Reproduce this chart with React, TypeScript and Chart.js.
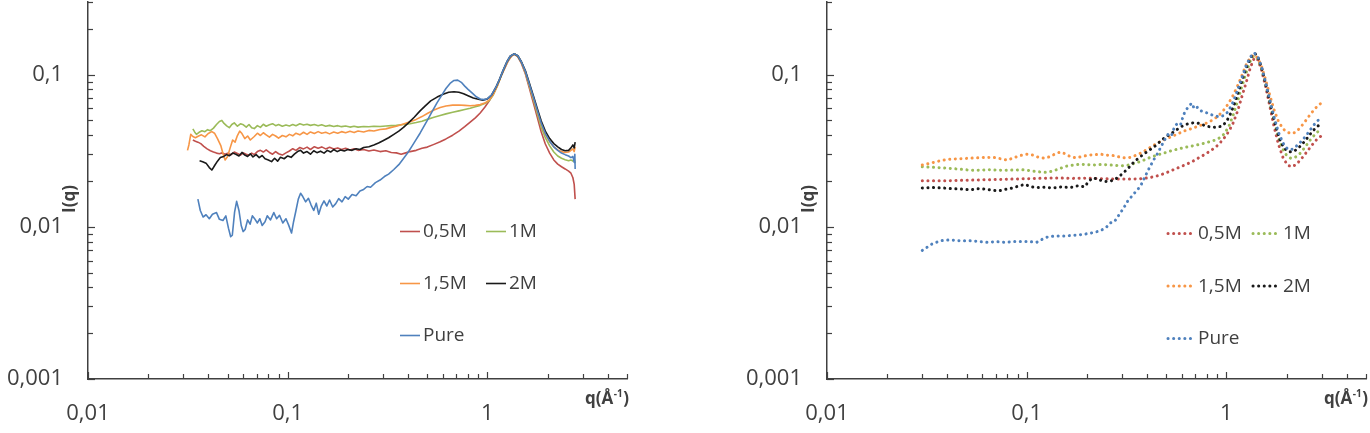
import React, { useEffect, useRef } from 'react';
import { Chart, registerables } from 'chart.js';

Chart.register(...registerables);

type Pt = [number, number];

const seriesNames = ['0,5M', '1M', '1,5M', '2M', 'Pure'];
const seriesColors = ['#C0504D', '#9BBB59', '#F79646', '#1A1A1A', '#4F81BD'];

// axis ticks (marks) and labelled ticks
const xTickValues = [0.01, 0.02, 0.03, 0.04, 0.05, 0.06, 0.07, 0.08, 0.09, 0.1, 0.2, 0.3, 0.4, 0.5, 0.6, 0.7, 0.8, 0.9, 1, 2, 3, 4, 5];
const xLabelValues = [0.01, 0.1, 1];
const xLabelTexts = ['0,01', '0,1', '1'];
const yTickValues = [0.001, 0.002, 0.003, 0.004, 0.005, 0.006, 0.007, 0.008, 0.009, 0.01, 0.02, 0.03, 0.04, 0.05, 0.06, 0.07, 0.08, 0.09, 0.1, 0.2, 0.3];
const yLabelValues = [0.001, 0.01, 0.1];
const yLabelTexts = ['0,001', '0,01', '0,1'];
const xTitle = 'q(Å';
const xTitleSup = '-1';
const yTitle = 'I(q)';

// ---------- left chart (solid) ----------
const leftRed: Pt[] = [[0.0335,0.0372],[0.0345,0.0365],[0.0355,0.0360],[0.0367,0.0352],[0.038,0.0338],[0.0395,0.0325],[0.041,0.0316],[0.0425,0.0310],[0.044,0.0305],[0.0455,0.0302],[0.047,0.0306],[0.0485,0.0300],[0.050,0.0304],[0.052,0.0298],[0.054,0.0310],[0.056,0.0303],[0.058,0.0296],[0.060,0.0306],[0.062,0.0300],[0.064,0.0295],[0.066,0.0305],[0.068,0.0298],[0.0705,0.0312],[0.073,0.0318],[0.0755,0.0310],[0.078,0.0320],[0.081,0.0308],[0.084,0.0300],[0.087,0.0312],[0.09,0.0302],[0.094,0.0296],[0.098,0.0306],[0.102,0.0315],[0.106,0.0326],[0.11,0.0318],[0.115,0.0332],[0.12,0.0325],[0.125,0.0334],[0.13,0.0322],[0.136,0.0336],[0.142,0.0328],[0.148,0.0335],[0.155,0.0325],[0.162,0.0333],[0.17,0.0324],[0.178,0.0330],[0.186,0.0322],[0.195,0.0328],[0.205,0.0320],[0.215,0.0326],[0.225,0.0318],[0.24,0.0322],[0.255,0.0315],[0.27,0.0320],[0.29,0.0312],[0.31,0.0316],[0.33,0.0308],[0.35,0.0306],[0.37,0.0300],[0.39,0.0306],[0.41,0.0312],[0.44,0.0318],[0.47,0.0328],[0.50,0.0334],[0.54,0.0348],[0.58,0.0362],[0.62,0.0378],[0.67,0.0400],[0.72,0.0425],[0.77,0.0455],[0.82,0.0488],[0.87,0.0520],[0.92,0.0560],[0.97,0.0610],[1.02,0.0670],[1.07,0.0750],[1.12,0.0850],[1.17,0.0975],[1.22,0.1100],[1.27,0.1230],[1.32,0.1325],[1.37,0.1360],[1.42,0.1310],[1.48,0.1185],[1.55,0.1010],[1.62,0.0820],[1.70,0.0650],[1.78,0.0520],[1.86,0.0420],[1.95,0.0350],[2.05,0.0305],[2.15,0.0275],[2.25,0.0258],[2.35,0.0248],[2.45,0.0240],[2.55,0.0232],[2.62,0.0225],[2.68,0.0210],[2.72,0.0190],[2.75,0.0152]];

const leftGreen: Pt[] = [[0.0335,0.0440],[0.0342,0.0420],[0.0349,0.0405],[0.036,0.0418],[0.0372,0.0428],[0.0385,0.0422],[0.0397,0.0435],[0.041,0.0428],[0.0425,0.0445],[0.044,0.0470],[0.0455,0.0492],[0.0468,0.0500],[0.048,0.0478],[0.0495,0.0460],[0.051,0.0448],[0.0525,0.0470],[0.054,0.0482],[0.056,0.0458],[0.058,0.0475],[0.06,0.0468],[0.062,0.0452],[0.064,0.0470],[0.066,0.0448],[0.068,0.0442],[0.0705,0.0462],[0.073,0.0450],[0.0755,0.0472],[0.078,0.0458],[0.081,0.0468],[0.084,0.0476],[0.087,0.0462],[0.09,0.0470],[0.094,0.0458],[0.098,0.0466],[0.102,0.0460],[0.106,0.0470],[0.11,0.0462],[0.115,0.0475],[0.12,0.0466],[0.125,0.0472],[0.13,0.0464],[0.136,0.0470],[0.142,0.0461],[0.148,0.0468],[0.155,0.0458],[0.162,0.0464],[0.17,0.0456],[0.178,0.0462],[0.186,0.0455],[0.195,0.0460],[0.205,0.0452],[0.215,0.0458],[0.225,0.0452],[0.24,0.0456],[0.255,0.0454],[0.27,0.0458],[0.29,0.0456],[0.31,0.0460],[0.33,0.0462],[0.35,0.0464],[0.38,0.0470],[0.41,0.0476],[0.44,0.0484],[0.47,0.0494],[0.50,0.0508],[0.54,0.0524],[0.58,0.0538],[0.62,0.0552],[0.67,0.0566],[0.72,0.0578],[0.77,0.0590],[0.82,0.0602],[0.87,0.0615],[0.92,0.0628],[0.97,0.0645],[1.02,0.0672],[1.07,0.0735],[1.12,0.0840],[1.17,0.0975],[1.22,0.1110],[1.27,0.1240],[1.32,0.1330],[1.37,0.1365],[1.42,0.1320],[1.48,0.1200],[1.55,0.1030],[1.62,0.0845],[1.70,0.0680],[1.78,0.0550],[1.86,0.0450],[1.95,0.0385],[2.05,0.0340],[2.15,0.0310],[2.25,0.0292],[2.35,0.0282],[2.45,0.0276],[2.55,0.0272],[2.62,0.0275],[2.68,0.0270],[2.72,0.0280],[2.75,0.0262]];

const leftOrange: Pt[] = [[0.0315,0.0318],[0.032,0.0345],[0.0327,0.0405],[0.0335,0.0392],[0.0345,0.0385],[0.0358,0.0395],[0.037,0.0402],[0.0385,0.0390],[0.040,0.0410],[0.0417,0.0422],[0.043,0.0412],[0.0445,0.0380],[0.0463,0.0340],[0.0475,0.0300],[0.0486,0.0275],[0.050,0.0290],[0.0515,0.0330],[0.053,0.0372],[0.0545,0.0360],[0.056,0.0398],[0.0575,0.0425],[0.059,0.0410],[0.061,0.0380],[0.063,0.0395],[0.065,0.0372],[0.068,0.0392],[0.0705,0.0412],[0.073,0.0398],[0.0755,0.0415],[0.078,0.0402],[0.081,0.0388],[0.084,0.0405],[0.087,0.0395],[0.09,0.0382],[0.094,0.0398],[0.098,0.0390],[0.102,0.0405],[0.106,0.0396],[0.11,0.0412],[0.115,0.0402],[0.12,0.0418],[0.125,0.0405],[0.13,0.0420],[0.136,0.0410],[0.142,0.0422],[0.148,0.0412],[0.155,0.0418],[0.162,0.0408],[0.17,0.0420],[0.178,0.0412],[0.186,0.0422],[0.195,0.0415],[0.205,0.0424],[0.215,0.0416],[0.225,0.0426],[0.24,0.0420],[0.255,0.0430],[0.27,0.0426],[0.29,0.0436],[0.31,0.0440],[0.33,0.0450],[0.35,0.0458],[0.38,0.0474],[0.41,0.0490],[0.44,0.0508],[0.47,0.0530],[0.50,0.0555],[0.54,0.0585],[0.58,0.0608],[0.62,0.0622],[0.67,0.0630],[0.72,0.0632],[0.77,0.0628],[0.82,0.0625],[0.87,0.0628],[0.92,0.0635],[0.97,0.0650],[1.02,0.0680],[1.07,0.0740],[1.12,0.0840],[1.17,0.0975],[1.22,0.1110],[1.27,0.1240],[1.32,0.1330],[1.37,0.1365],[1.42,0.1322],[1.48,0.1205],[1.55,0.1040],[1.62,0.0860],[1.70,0.0700],[1.78,0.0572],[1.86,0.0472],[1.95,0.0405],[2.05,0.0362],[2.15,0.0335],[2.25,0.0320],[2.35,0.0312],[2.45,0.0308],[2.55,0.0310],[2.62,0.0318],[2.68,0.0325],[2.72,0.0312],[2.75,0.0335]];

const leftBlack: Pt[] = [[0.0362,0.0272],[0.0375,0.0268],[0.039,0.0262],[0.0405,0.0245],[0.0417,0.0236],[0.043,0.0252],[0.0445,0.0270],[0.046,0.0285],[0.0478,0.0290],[0.0495,0.0298],[0.051,0.0293],[0.053,0.0305],[0.055,0.0300],[0.057,0.0292],[0.059,0.0308],[0.061,0.0296],[0.063,0.0290],[0.065,0.0302],[0.067,0.0288],[0.0695,0.0298],[0.072,0.0285],[0.0745,0.0294],[0.077,0.0280],[0.08,0.0275],[0.083,0.0268],[0.086,0.0282],[0.089,0.0270],[0.092,0.0286],[0.096,0.0280],[0.1,0.0292],[0.104,0.0286],[0.108,0.0300],[0.112,0.0312],[0.116,0.0318],[0.12,0.0305],[0.125,0.0312],[0.13,0.0300],[0.135,0.0316],[0.14,0.0307],[0.146,0.0314],[0.152,0.0305],[0.158,0.0318],[0.164,0.0310],[0.17,0.0322],[0.177,0.0312],[0.184,0.0320],[0.192,0.0315],[0.2,0.0322],[0.21,0.0318],[0.22,0.0326],[0.23,0.0322],[0.24,0.0332],[0.255,0.0336],[0.27,0.0345],[0.285,0.0355],[0.30,0.0368],[0.32,0.0385],[0.34,0.0405],[0.36,0.0425],[0.38,0.0450],[0.40,0.0478],[0.43,0.0525],[0.46,0.0578],[0.49,0.0625],[0.52,0.0672],[0.56,0.0712],[0.60,0.0742],[0.64,0.0765],[0.68,0.0772],[0.72,0.0765],[0.76,0.0748],[0.80,0.0726],[0.85,0.0702],[0.90,0.0688],[0.95,0.0680],[1.00,0.0692],[1.05,0.0735],[1.10,0.0820],[1.15,0.0930],[1.20,0.1070],[1.25,0.1210],[1.30,0.1320],[1.36,0.1370],[1.42,0.1330],[1.48,0.1215],[1.55,0.1060],[1.62,0.0885],[1.70,0.0725],[1.78,0.0595],[1.86,0.0495],[1.95,0.0425],[2.05,0.0380],[2.15,0.0352],[2.25,0.0335],[2.35,0.0322],[2.45,0.0316],[2.55,0.0318],[2.62,0.0330],[2.68,0.0345],[2.72,0.0330],[2.75,0.0360]];

const leftBlue: Pt[] = [[0.0355,0.0152],[0.0365,0.0128],[0.0377,0.0116],[0.039,0.0120],[0.0405,0.0113],[0.042,0.0121],[0.044,0.0124],[0.0455,0.0112],[0.0474,0.0110],[0.049,0.0118],[0.0505,0.0098],[0.0518,0.0086],[0.0528,0.0088],[0.0542,0.0125],[0.0555,0.0147],[0.057,0.0128],[0.0585,0.0102],[0.0598,0.0093],[0.0612,0.0096],[0.063,0.0111],[0.0648,0.0104],[0.0665,0.0118],[0.068,0.0114],[0.0705,0.0106],[0.0725,0.0113],[0.0745,0.0102],[0.077,0.0108],[0.079,0.0118],[0.082,0.0111],[0.0852,0.0124],[0.088,0.0113],[0.091,0.0119],[0.0945,0.0106],[0.098,0.0113],[0.101,0.0103],[0.1045,0.0091],[0.107,0.0108],[0.110,0.0128],[0.113,0.0152],[0.116,0.0166],[0.119,0.0158],[0.123,0.0146],[0.127,0.0154],[0.131,0.0139],[0.135,0.0128],[0.139,0.0143],[0.143,0.0121],[0.147,0.0136],[0.152,0.0148],[0.157,0.0137],[0.162,0.0150],[0.168,0.0135],[0.174,0.0142],[0.18,0.0153],[0.187,0.0146],[0.194,0.0158],[0.201,0.0152],[0.21,0.0163],[0.22,0.0160],[0.23,0.0172],[0.24,0.0176],[0.25,0.0184],[0.26,0.0182],[0.275,0.0195],[0.29,0.0203],[0.305,0.0214],[0.32,0.0222],[0.34,0.0238],[0.36,0.0256],[0.38,0.0281],[0.40,0.0308],[0.42,0.0340],[0.44,0.0375],[0.46,0.0412],[0.48,0.0455],[0.50,0.0500],[0.53,0.0575],[0.56,0.0655],[0.59,0.0730],[0.62,0.0810],[0.65,0.0875],[0.68,0.0915],[0.71,0.0920],[0.74,0.0890],[0.77,0.0840],[0.80,0.0800],[0.84,0.0755],[0.88,0.0715],[0.92,0.0692],[0.96,0.0685],[1.00,0.0695],[1.05,0.0735],[1.10,0.0820],[1.15,0.0930],[1.20,0.1070],[1.25,0.1210],[1.30,0.1320],[1.36,0.1370],[1.42,0.1330],[1.48,0.1210],[1.55,0.1050],[1.62,0.0870],[1.70,0.0710],[1.78,0.0580],[1.86,0.0480],[1.95,0.0410],[2.05,0.0365],[2.15,0.0335],[2.25,0.0318],[2.35,0.0305],[2.45,0.0298],[2.55,0.0292],[2.62,0.0285],[2.68,0.0290],[2.72,0.0265],[2.74,0.0300],[2.75,0.0240]];

// ---------- right chart (dotted) ----------
const rightRed: Pt[] = [[0.030,0.0201],[0.035,0.0201],[0.041,0.0201],[0.048,0.0202],[0.056,0.0203],[0.065,0.0204],[0.075,0.0205],[0.087,0.0206],[0.10,0.0207],[0.114,0.0208],[0.13,0.0209],[0.15,0.0209],[0.17,0.0208],[0.19,0.0209],[0.215,0.0208],[0.24,0.0207],[0.27,0.0206],[0.30,0.0206],[0.33,0.0206],[0.37,0.0207],[0.41,0.0210],[0.45,0.0216],[0.49,0.0224],[0.53,0.0234],[0.58,0.0246],[0.63,0.0257],[0.68,0.0270],[0.73,0.0285],[0.79,0.0302],[0.85,0.0322],[0.91,0.0345],[0.97,0.0380],[1.03,0.0425],[1.08,0.0480],[1.14,0.0580],[1.20,0.0730],[1.26,0.0900],[1.32,0.1120],[1.38,0.1290],[1.44,0.1250],[1.50,0.1070],[1.57,0.0840],[1.65,0.0620],[1.73,0.0460],[1.82,0.0350],[1.92,0.0285],[2.02,0.0255],[2.12,0.0248],[2.22,0.0255],[2.35,0.0275],[2.50,0.0305],[2.66,0.0340],[2.82,0.0372],[2.98,0.0395]];

const rightGreen: Pt[] = [[0.030,0.0248],[0.034,0.0246],[0.038,0.0244],[0.043,0.0241],[0.048,0.0238],[0.053,0.0235],[0.059,0.0236],[0.065,0.0237],[0.071,0.0236],[0.078,0.0235],[0.086,0.0236],[0.095,0.0237],[0.104,0.0234],[0.114,0.0230],[0.124,0.0228],[0.134,0.0232],[0.145,0.0240],[0.157,0.0250],[0.170,0.0254],[0.185,0.0258],[0.20,0.0256],[0.22,0.0255],[0.24,0.0257],[0.26,0.0255],[0.28,0.0253],[0.30,0.0252],[0.32,0.0254],[0.35,0.0262],[0.38,0.0272],[0.41,0.0284],[0.45,0.0296],[0.49,0.0306],[0.53,0.0316],[0.58,0.0326],[0.63,0.0334],[0.69,0.0342],[0.75,0.0350],[0.81,0.0360],[0.87,0.0370],[0.93,0.0385],[0.98,0.0410],[1.03,0.0460],[1.08,0.0540],[1.13,0.0650],[1.19,0.0820],[1.25,0.1010],[1.31,0.1210],[1.37,0.1330],[1.43,0.1280],[1.49,0.1120],[1.56,0.0900],[1.64,0.0680],[1.72,0.0520],[1.81,0.0400],[1.90,0.0330],[2.00,0.0295],[2.10,0.0282],[2.20,0.0285],[2.32,0.0300],[2.46,0.0330],[2.62,0.0370],[2.80,0.0410],[2.98,0.0440]];

const rightOrange: Pt[] = [[0.030,0.0255],[0.033,0.0262],[0.037,0.0272],[0.041,0.0278],[0.046,0.0280],[0.051,0.0282],[0.057,0.0284],[0.063,0.0286],[0.069,0.0285],[0.075,0.0279],[0.080,0.0274],[0.086,0.0284],[0.093,0.0294],[0.100,0.0300],[0.107,0.0296],[0.114,0.0287],[0.122,0.0283],[0.130,0.0288],[0.138,0.0300],[0.147,0.0310],[0.156,0.0302],[0.166,0.0288],[0.177,0.0284],[0.19,0.0290],[0.205,0.0296],[0.22,0.0298],[0.235,0.0300],[0.25,0.0296],[0.27,0.0294],[0.29,0.0288],[0.31,0.0284],[0.33,0.0286],[0.35,0.0294],[0.375,0.0306],[0.40,0.0322],[0.43,0.0342],[0.46,0.0360],[0.50,0.0378],[0.54,0.0395],[0.58,0.0412],[0.62,0.0428],[0.67,0.0442],[0.72,0.0458],[0.78,0.0475],[0.84,0.0498],[0.90,0.0528],[0.96,0.0575],[1.02,0.0640],[1.08,0.0730],[1.14,0.0850],[1.20,0.1000],[1.26,0.1170],[1.32,0.1300],[1.38,0.1350],[1.44,0.1280],[1.50,0.1130],[1.57,0.0930],[1.65,0.0730],[1.73,0.0590],[1.82,0.0495],[1.92,0.0440],[2.02,0.0418],[2.12,0.0410],[2.22,0.0418],[2.35,0.0450],[2.50,0.0500],[2.65,0.0555],[2.82,0.0610],[2.98,0.0650]];

const rightBlack: Pt[] = [[0.030,0.0180],[0.034,0.0181],[0.038,0.0180],[0.042,0.0178],[0.047,0.0177],[0.052,0.0175],[0.057,0.0178],[0.062,0.0177],[0.067,0.0174],[0.072,0.0172],[0.078,0.0176],[0.085,0.0180],[0.092,0.0186],[0.098,0.0190],[0.104,0.0184],[0.112,0.0181],[0.122,0.0182],[0.135,0.0180],[0.15,0.0183],[0.165,0.0181],[0.18,0.0186],[0.195,0.0183],[0.205,0.0200],[0.215,0.0210],[0.228,0.0205],[0.24,0.0200],[0.255,0.0198],[0.27,0.0202],[0.285,0.0210],[0.30,0.0222],[0.32,0.0240],[0.34,0.0262],[0.36,0.0280],[0.385,0.0300],[0.41,0.0318],[0.44,0.0340],[0.47,0.0368],[0.50,0.0392],[0.53,0.0410],[0.56,0.0432],[0.60,0.0458],[0.64,0.0475],[0.68,0.0482],[0.72,0.0480],[0.76,0.0468],[0.80,0.0458],[0.85,0.0450],[0.90,0.0452],[0.95,0.0458],[1.00,0.0490],[1.05,0.0555],[1.10,0.0650],[1.16,0.0800],[1.22,0.0990],[1.28,0.1180],[1.34,0.1330],[1.39,0.1380],[1.45,0.1270],[1.51,0.1080],[1.58,0.0850],[1.66,0.0640],[1.75,0.0480],[1.84,0.0380],[1.94,0.0330],[2.04,0.0312],[2.14,0.0310],[2.25,0.0322],[2.38,0.0345],[2.52,0.0378],[2.68,0.0420],[2.84,0.0455],[2.98,0.0475]];

const rightBlue: Pt[] = [[0.030,0.0070],[0.0335,0.0077],[0.037,0.0081],[0.041,0.0082],[0.046,0.0081],[0.052,0.0081],[0.058,0.0080],[0.064,0.0079],[0.070,0.0080],[0.078,0.0079],[0.086,0.0080],[0.094,0.0080],[0.103,0.0080],[0.112,0.0079],[0.120,0.0083],[0.128,0.0086],[0.140,0.0087],[0.155,0.0087],[0.172,0.0088],[0.19,0.0089],[0.21,0.0091],[0.233,0.0094],[0.25,0.0099],[0.262,0.0106],[0.275,0.0108],[0.29,0.0120],[0.305,0.0132],[0.32,0.0147],[0.34,0.0162],[0.36,0.0176],[0.375,0.0190],[0.39,0.0212],[0.41,0.0242],[0.43,0.0272],[0.45,0.0300],[0.47,0.0335],[0.49,0.0372],[0.51,0.0405],[0.53,0.0395],[0.55,0.0455],[0.57,0.0480],[0.59,0.0470],[0.61,0.0545],[0.63,0.0590],[0.65,0.0620],[0.67,0.0650],[0.69,0.0600],[0.71,0.0615],[0.74,0.0580],[0.77,0.0570],[0.80,0.0560],[0.84,0.0545],[0.88,0.0535],[0.92,0.0528],[0.97,0.0538],[1.02,0.0570],[1.08,0.0660],[1.14,0.0800],[1.20,0.0970],[1.26,0.1160],[1.32,0.1310],[1.38,0.1390],[1.44,0.1300],[1.50,0.1120],[1.57,0.0890],[1.65,0.0680],[1.73,0.0530],[1.82,0.0420],[1.92,0.0355],[2.02,0.0325],[2.12,0.0322],[2.22,0.0335],[2.35,0.0360],[2.50,0.0395],[2.65,0.0440],[2.82,0.0490],[2.98,0.0520]];

const leftSeries = [leftRed, leftGreen, leftOrange, leftBlack, leftBlue];
const rightSeries = [rightRed, rightGreen, rightOrange, rightBlack, rightBlue];

const AXIS_COLOR = '#404040';
const TEXT_COLOR = '#404040';
const FONT = '"Open Sans", "Liberation Sans", sans-serif';

function labelFor(v: number, values: number[], texts: string[]) {
  const i = values.findIndex((lv) => Math.abs(v - lv) / lv < 1e-6);
  return i >= 0 ? texts[i] : '';
}

interface ChartSpec {
  series: Pt[][];
  dotted: boolean;
  yAxisWidth: number;
  padRight: number;
  legend: { x: number; y: number; colGap: number; rowGap: number; lineLen: number; textOff: number };
}

function LogChart({ spec }: { spec: ChartSpec }) {
  const ref = useRef<HTMLCanvasElement>(null);
  useEffect(() => {
    if (!ref.current) return;
    const { series, dotted, yAxisWidth, padRight, legend } = spec;

    const tickMarks = {
      id: 'tickMarks',
      afterDraw(chart: any) {
        const { ctx, chartArea: a, scales } = chart;
        ctx.save();
        ctx.strokeStyle = AXIS_COLOR;
        ctx.lineWidth = 1.2;
        xTickValues.forEach((v) => {
          const x = Math.round(scales.x.getPixelForValue(v)) + 0.5;
          const len = xLabelValues.includes(v) ? 7 : 5;
          ctx.beginPath();
          ctx.moveTo(x, a.bottom);
          ctx.lineTo(x, a.bottom - len);
          ctx.stroke();
        });
        yTickValues.forEach((v) => {
          const y = Math.round(scales.y.getPixelForValue(v)) + 0.5;
          const len = yLabelValues.includes(v) ? 7 : 5;
          ctx.beginPath();
          ctx.moveTo(a.left, y);
          ctx.lineTo(a.left + len, y);
          ctx.stroke();
        });
        ctx.restore();
      },
    };

    const titles = {
      id: 'titles',
      afterDraw(chart: any) {
        const { ctx, chartArea: a } = chart;
        ctx.save();
        ctx.fillStyle = TEXT_COLOR;
        // y title
        ctx.translate(a.left - 18, 199);
        ctx.rotate(-Math.PI / 2);
        ctx.font = `bold 17px ${FONT}`;
        ctx.textAlign = 'center';
        ctx.textBaseline = 'middle';
        ctx.fillText(yTitle, 0, 0);
        ctx.restore();
        // x title with superscript
        ctx.save();
        ctx.fillStyle = TEXT_COLOR;
        ctx.textBaseline = 'alphabetic';
        const big = `bold 17px ${FONT}`;
        const small = `bold 10px ${FONT}`;
        ctx.font = big;
        const w1 = ctx.measureText(xTitle).width;
        const w3 = ctx.measureText(')').width;
        ctx.font = small;
        const w2 = ctx.measureText(xTitleSup).width + 1;
        const right = a.right + 2;
        const x0 = right - (w1 + w2 + w3);
        const base = 404;
        ctx.font = big;
        ctx.textAlign = 'left';
        ctx.fillText(xTitle, x0, base);
        ctx.font = small;
        ctx.fillText(xTitleSup, x0 + w1 + 0.5, base - 7);
        ctx.font = big;
        ctx.fillText(')', x0 + w1 + w2, base);
        ctx.restore();
      },
    };

    const seriesKey = {
      id: 'seriesKey',
      afterDraw(chart: any) {
        const { ctx } = chart;
        ctx.save();
        chart.data.datasets.forEach((ds: any, i: number) => {
          const col = i % 2;
          const row = Math.floor(i / 2);
          const x = legend.x + col * legend.colGap;
          const y = legend.y + row * legend.rowGap;
          ctx.strokeStyle = ds.borderColor;
          ctx.lineWidth = ds.borderWidth;
          ctx.lineCap = ds.borderCapStyle;
          ctx.setLineDash(ds.borderDash || []);
          ctx.beginPath();
          ctx.moveTo(x, y + 0.5);
          ctx.lineTo(x + legend.lineLen, y + 0.5);
          ctx.stroke();
          ctx.setLineDash([]);
          ctx.fillStyle = TEXT_COLOR;
          ctx.font = `19px ${FONT}`;
          ctx.textAlign = 'left';
          ctx.textBaseline = 'middle';
          ctx.fillText(ds.label, x + legend.textOff, y + 1);
        });
        ctx.restore();
      },
    };

    const chart = new Chart(ref.current, {
      type: 'line',
      data: {
        datasets: series.map((pts, i) => ({
          label: seriesNames[i],
          data: pts.map(([x, y]) => ({ x, y })),
          borderColor: seriesColors[i],
          backgroundColor: seriesColors[i],
          borderWidth: dotted ? 3 : 1.6,
          borderDash: dotted ? [0.1, 5.5] : [],
          borderCapStyle: dotted ? 'round' : 'butt',
          borderJoinStyle: 'round',
          pointRadius: 0,
          tension: 0,
          fill: false,
          order: series.length - 1 - i,
        })),
      },
      options: {
        animation: false,
        responsive: false,
        events: [],
        layout: { autoPadding: false, padding: { left: 0, right: padRight, top: 2, bottom: 0 } },
        plugins: { legend: { display: false }, tooltip: { enabled: false } },
        scales: {
          x: {
            type: 'logarithmic',
            min: 0.01,
            max: 5,
            grid: { display: false, drawTicks: false },
            border: { display: true, color: AXIS_COLOR, width: 1.5 },
            ticks: {
              autoSkip: false,
              maxRotation: 0,
              padding: 22,
              color: TEXT_COLOR,
              font: { family: FONT, size: 22 },
              callback: (v: any) => labelFor(Number(v), xLabelValues, xLabelTexts),
            },
            afterBuildTicks: (s: any) => {
              s.ticks = xLabelValues.map((value) => ({ value }));
            },
            afterFit: (s: any) => {
              s.height = 54;
              s.paddingLeft = 0;
              s.paddingRight = 0;
            },
          },
          y: {
            type: 'logarithmic',
            min: 0.001,
            max: 0.3,
            grid: { display: false, drawTicks: false },
            border: { display: true, color: AXIS_COLOR, width: 1.5 },
            ticks: {
              autoSkip: false,
              padding: 25,
              color: TEXT_COLOR,
              font: { family: FONT, size: 22 },
              callback: (v: any) => labelFor(Number(v), yLabelValues, yLabelTexts),
            },
            afterBuildTicks: (s: any) => {
              s.ticks = yLabelValues.map((value) => ({ value }));
            },
            afterFit: (s: any) => {
              s.width = yAxisWidth;
              s.paddingTop = 0;
              s.paddingBottom = 0;
            },
          },
        },
      },
      plugins: [tickMarks, titles, seriesKey],
    } as any);
    return () => chart.destroy();
  }, [spec]);
  return <canvas ref={ref} width={685} height={433} style={{ display: 'block' }} />;
}

const leftSpec: ChartSpec = {
  series: leftSeries,
  dotted: false,
  yAxisWidth: 88,
  padRight: 58,
  legend: { x: 400, y: 231, colGap: 86, rowGap: 52, lineLen: 20, textOff: 23 },
};

const rightSpec: ChartSpec = {
  series: rightSeries,
  dotted: true,
  yAxisWidth: 142,
  padRight: 4,
  legend: { x: 483, y: 233, colGap: 85, rowGap: 52.5, lineLen: 25, textOff: 30 },
};

export default function App() {
  return (
    <div style={{ position: 'absolute', left: 0, top: 0, width: 1370, height: 433, background: '#fff' }}>
      <div style={{ position: 'absolute', left: 0, top: 0, width: 685, height: 433 }}>
        <LogChart spec={leftSpec} />
      </div>
      <div style={{ position: 'absolute', left: 685, top: 0, width: 685, height: 433 }}>
        <LogChart spec={rightSpec} />
      </div>
    </div>
  );
}
